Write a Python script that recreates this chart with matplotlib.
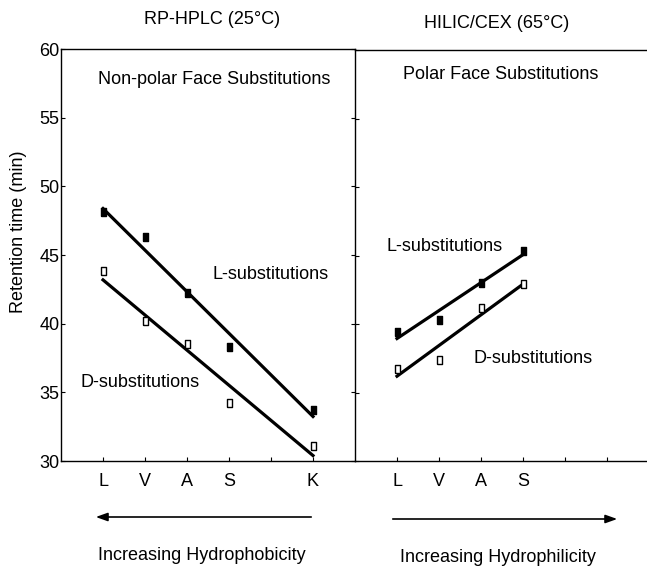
import numpy as np
import matplotlib
matplotlib.use("Agg")
import matplotlib.pyplot as plt

plt.rcParams["font.family"] = ["Liberation Sans", "DejaVu Sans"]

# Datos (retention time, min)
rp_labels = ["L", "V", "A", "S", "", "K"]
rp_x = [1, 2, 3, 4, 6]
rp_L = [48.1, 46.3, 42.2, 38.3, 33.7]
rp_D = [43.8, 40.2, 38.5, 34.2, 31.1]

hilic_labels = ["L", "V", "A", "S", "", ""]
hilic_x = [1, 2, 3, 4]
hilic_L = [39.4, 40.3, 43.0, 45.3]
hilic_D = [36.7, 37.4, 41.2, 42.9]

# marcador rectangular (mas alto que ancho)
rect = [(-0.6, -1), (0.6, -1), (0.6, 1), (-0.6, 1), (-0.6, -1)]
FS = 13

fig = plt.figure(figsize=(6.47, 5.68), dpi=100)
ax1 = fig.add_axes([61 / 647, 1 - 461 / 568, 294 / 647, 412 / 568])
ax2 = fig.add_axes([355 / 647, 1 - 461 / 568, 294 / 647, 411 / 568])
ax2.patch.set_visible(False)


def panel(ax, x, yl, yd, labels):
    x = np.array(x)
    for y, fc in [(yl, "black"), (yd, "white")]:
        ax.plot(x, y, linestyle="none", marker=rect, markersize=6,
                markerfacecolor=fc, markeredgecolor="black", markeredgewidth=1.0, zorder=3)
        m, b = np.polyfit(x, y, 1)
        xx = np.array([x.min(), x.max()])
        ax.plot(xx, m * xx + b, color="black", lw=2.3, zorder=2)
    ax.set_xlim(0, 7)
    ax.set_ylim(30, 60)
    ax.set_xticks(range(1, 7))
    ax.set_xticklabels(labels, fontsize=FS)
    ax.set_yticks([30, 35, 40, 45, 50, 55, 60])
    ax.tick_params(direction="in", length=3, width=0.8, top=False, right=True,
                   labelsize=FS)
    ax.tick_params(axis="x", pad=9)
    ax.tick_params(axis="y", pad=1)
    for s in ax.spines.values():
        s.set_linewidth(1.0)


panel(ax1, rp_x, rp_L, rp_D, rp_labels)
panel(ax2, hilic_x, hilic_L, hilic_D, hilic_labels)
ax2.tick_params(labelleft=False, right=False)
ax2.spines["right"].set_visible(False)
ax2.spines["left"].set_visible(False)

ax1.text(3.65, 57.8, "Non-polar Face Substitutions", ha="center", va="center", fontsize=FS)
ax1.text(4.98, 43.55, "L-substitutions", ha="center", va="center", fontsize=FS)
ax1.text(1.89, 35.75, "D-substitutions", ha="center", va="center", fontsize=FS)

ax2.text(3.46, 58.2, "Polar Face Substitutions", ha="center", va="center", fontsize=FS)
ax2.text(2.14, 45.66, "L-substitutions", ha="center", va="center", fontsize=FS)
ax2.text(4.25, 37.5, "D-substitutions", ha="center", va="center", fontsize=FS)

fig.text(0.028, 1 - 232 / 568, "Retention time (min)", rotation=90,
         ha="center", va="center", fontsize=FS)
fig.text(212 / 647, 1 - 20 / 568, "RP-HPLC (25°C)", ha="center", va="center", fontsize=FS)
fig.text(497 / 647, 1 - 24 / 568, "HILIC/CEX (65°C)", ha="center", va="center", fontsize=FS)

# Flechas inferiores
arrow = dict(arrowstyle="-|>,head_length=0.7,head_width=0.25", color="black", lw=1.2)
fig.add_artist(plt.Annotation("", xy=(93 / 647, 1 - 517 / 568), xytext=(314 / 647, 1 - 517 / 568),
                              xycoords="figure fraction", textcoords="figure fraction",
                              arrowprops=arrow))
fig.add_artist(plt.Annotation("", xy=(620 / 647, 1 - 519 / 568), xytext=(390 / 647, 1 - 519 / 568),
                              xycoords="figure fraction", textcoords="figure fraction",
                              arrowprops=arrow))
fig.text(202 / 647, 1 - 556 / 568, "Increasing Hydrophobicity", ha="center", va="center", fontsize=FS)
fig.text(498 / 647, 1 - 557 / 568, "Increasing Hydrophilicity", ha="center", va="center", fontsize=FS)

fig.savefig("out.png", dpi=100)
